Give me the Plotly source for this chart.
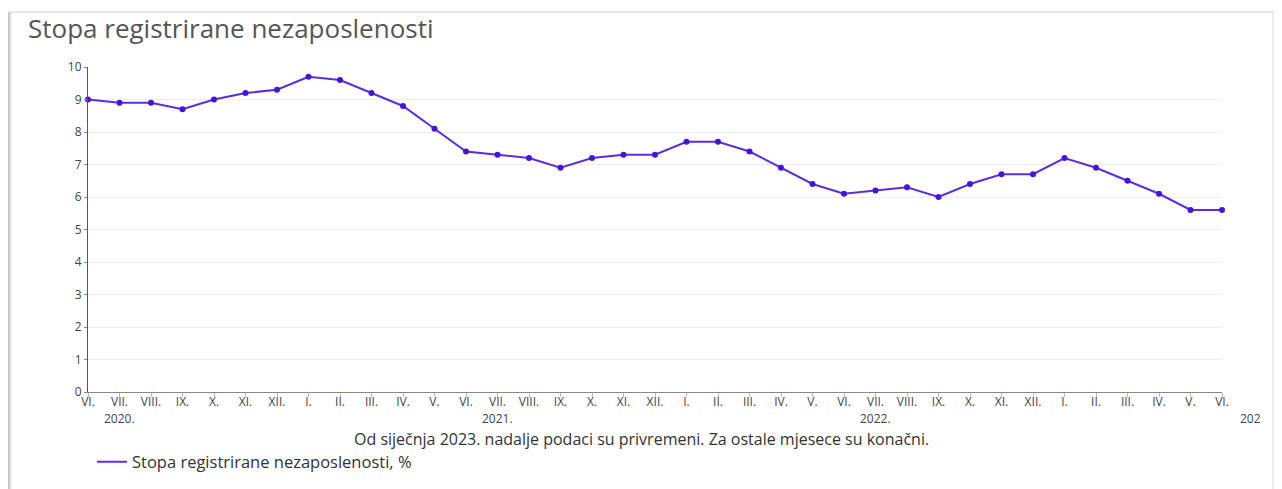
import plotly.graph_objects as go

months = ["VI.", "VII.", "VIII.", "IX.", "X.", "XI.", "XII.",
          "I.", "II.", "III.", "IV.", "V.", "VI.", "VII.", "VIII.", "IX.", "X.", "XI.", "XII.",
          "I.", "II.", "III.", "IV.", "V.", "VI.", "VII.", "VIII.", "IX.", "X.", "XI.", "XII.",
          "I.", "II.", "III.", "IV.", "V.", "VI."]
year_positions = [1, 13, 25]
year_labels = ["2020.", "2021.", "2022."]
values = [9.0, 8.9, 8.9, 8.7, 9.0, 9.2, 9.3,
          9.7, 9.6, 9.2, 8.8, 8.1, 7.4, 7.3, 7.2, 6.9, 7.2, 7.3, 7.3,
          7.7, 7.7, 7.4, 6.9, 6.4, 6.1, 6.2, 6.3, 6.0, 6.4, 6.7, 6.7,
          7.2, 6.9, 6.5, 6.1, 5.6, 5.6]
series_name = "Stopa registrirane nezaposlenosti, %"
title_text = "Stopa registrirane nezaposlenosti"
note_text = "Od siječnja 2023. nadalje podaci su privremeni. Za ostale mjesece su konačni."

OFF = 8  # page body margin
W, H = 1282 - OFF, 489 - OFF
L, R, T, B = 88 - OFF, 1222 - OFF, 67 - OFF, 392 - OFF

def px(x):
    return (x - OFF - L) / (R - L)

def py(y):
    return (B - (y - OFF)) / (B - T)

xs = list(range(len(values)))

fig = go.Figure()
fig.add_trace(go.Scatter(x=xs, y=values, mode="lines", name=series_name,
                         line=dict(color="#5a2de3", width=2), cliponaxis=False))
fig.add_trace(go.Scatter(x=xs, y=values, mode="markers", showlegend=False,
                         marker=dict(color="#4812dc", size=6), cliponaxis=False))

shapes = []
shapes.append(dict(type="line", xref="paper", yref="paper", x0=px(10), x1=px(1274), y0=py(12), y1=py(12),
                   line=dict(color="#e6e6e6", width=2), layer="below"))
for off, col, w in [(-3, "#e8e8e8", 2), (-1, "#c8c8c8", 2), (1, "#dcdcdc", 1)]:
    shapes.append(dict(type="line", xref="paper", yref="paper", x0=px(10 + off), x1=px(10 + off),
                       y0=py(12), y1=py(500), line=dict(color=col, width=w), layer="below"))
for off, col, w in [(-1, "#e0e0e0", 1), (1, "#b0b0b0", 2), (3, "#a0a0a0", 2), (5, "#dddddd", 2)]:
    shapes.append(dict(type="line", xref="paper", yref="paper", x0=px(1274 + off), x1=px(1274 + off),
                       y0=py(12), y1=py(500), line=dict(color=col, width=w), layer="below"))

annotations = [
    dict(text=title_text, xref="paper", yref="paper", x=px(26), y=py(48), xanchor="left", yanchor="bottom",
         showarrow=False, font=dict(family="Open Sans", size=26, color="#555555")),
    dict(text=note_text, xref="paper", yref="paper", x=px(641), y=py(439), xanchor="center", yanchor="middle",
         showarrow=False, font=dict(family="Open Sans", size=16, color="#333333")),
    dict(text="202", xref="paper", yref="paper", x=px(1238), y=py(418), xanchor="left", yanchor="middle",
         showarrow=False, font=dict(family="Open Sans", size=12, color="#444444")),
]
for xp, yl in zip(year_positions, year_labels):
    annotations.append(dict(text=yl, xref="x", yref="paper", x=xp, y=py(418), xanchor="center",
                            yanchor="middle", showarrow=False,
                            font=dict(family="Open Sans", size=12, color="#444444")))

fig.update_layout(
    width=W, height=H,
    margin=dict(l=L, r=W - R, t=T, b=H - B, autoexpand=False),
    paper_bgcolor="white", plot_bgcolor="white",
    font=dict(family="Open Sans", size=12, color="#444444"),
    xaxis=dict(range=[0, len(values) - 1], tickmode="array", tickvals=xs, ticktext=months,
               showgrid=False, zeroline=False, showline=True, linecolor="#888888", linewidth=1,
               ticks="outside", ticklen=4, tickcolor="#bbbbbb", tickangle=0,
               ticklabelstandoff=-5,
               tickfont=dict(family="Open Sans", size=12, color="#444444")),
    yaxis=dict(range=[0, 10], dtick=1, showgrid=True, gridcolor="#eeeeee", zeroline=False,
               showline=True, linecolor="#555555", linewidth=1, ticks="outside", ticklen=3,
               tickcolor="#888888",
               tickfont=dict(family="Open Sans", size=12, color="#444444")),
    legend=dict(orientation="h", x=px(92), y=py(462), xanchor="left", yanchor="middle",
                font=dict(family="Open Sans", size=16.5, color="#333333"), bgcolor="rgba(0,0,0,0)"),
    shapes=shapes,
    annotations=annotations,
    showlegend=True,
)

fig.write_html("out.html")
